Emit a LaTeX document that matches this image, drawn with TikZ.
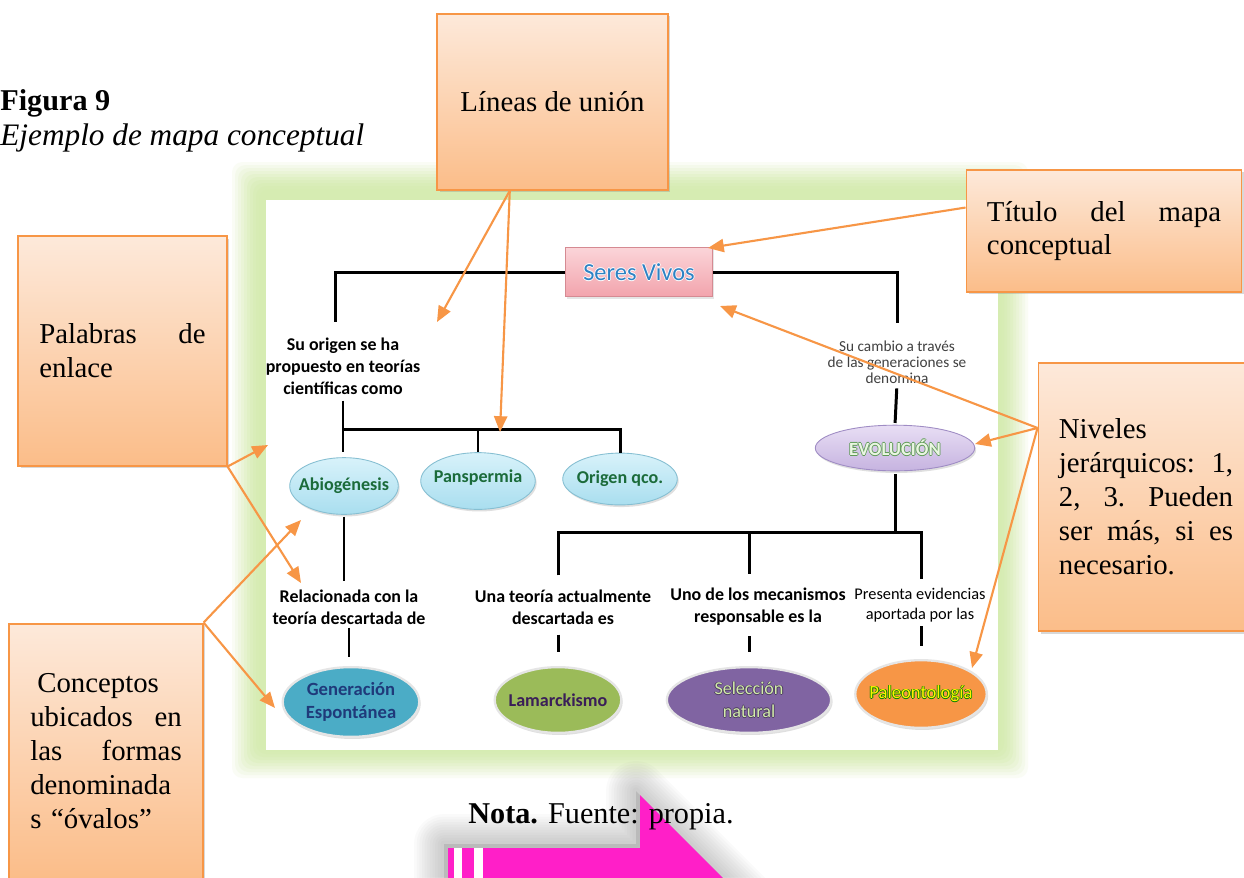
\documentclass[tikz,border=0pt]{standalone}
\usepackage{fontspec}
\setmainfont{Liberation Serif}
\newfontfamily\calib{Carlito}
\usetikzlibrary{arrows.meta,shadows,shapes.geometric,calc}
\definecolor{orn}{HTML}{F79646}
\definecolor{peachtop}{HTML}{FDE9DA}
\definecolor{peachbot}{HTML}{FBBD89}
\definecolor{frameg}{HTML}{D6ECB2}
\definecolor{magent}{HTML}{FF1FC8}
\definecolor{pinktop}{HTML}{FBD5D9}
\definecolor{pinkbot}{HTML}{F2A3AC}
\definecolor{pinkdraw}{HTML}{D58A92}
\definecolor{svblue}{HTML}{2E82C4}
\definecolor{cyantop}{HTML}{D8F2FA}
\definecolor{cyanbot}{HTML}{A9DEEF}
\definecolor{cyandraw}{HTML}{86BFD2}
\definecolor{dgreen}{HTML}{1B6B3A}
\definecolor{lavtop}{HTML}{E8DEF4}
\definecolor{lavbot}{HTML}{C6B3E0}
\definecolor{lavdraw}{HTML}{9F8CC4}
\definecolor{gteal}{HTML}{4BACC6}
\definecolor{olivegr}{HTML}{9BBB59}
\definecolor{purp}{HTML}{8064A2}
\definecolor{navytxt}{HTML}{1F3A7A}
\definecolor{dpurp}{HTML}{3A1E58}
\definecolor{ltgreen}{HTML}{D2EBAA}
\definecolor{evotxt}{HTML}{EAF6E2}
\definecolor{evoglow}{HTML}{5E9A56}

\newcommand\glowtxt[3]{{\color{#1}\rlap{\hspace{0.45pt}#3}\rlap{\hspace{-0.45pt}#3}\rlap{\raisebox{0.45pt}{#3}}\rlap{\raisebox{-0.45pt}{#3}}}{\color{#2}#3}}

\tikzset{
  callout/.style={draw=orn, line width=1.1pt, top color=peachtop, bottom color=peachbot,
     drop shadow={shadow xshift=1.2pt, shadow yshift=-1.2pt, opacity=0.3},
     font=\fontsize{16.4}{19.3}\selectfont, align=left, inner sep=0pt},
  tree/.style={line width=1.7pt, black},
  linktxt/.style={font=\calib\bfseries\fontsize{10.2}{12.5}\selectfont, align=center, inner sep=0pt, text=black},
  oval/.style={ellipse, inner sep=0pt, drop shadow={shadow xshift=0.8pt, shadow yshift=-1.2pt, opacity=0.25}},
  ovaltxt/.style={font=\calib\bfseries\fontsize{10.3}{13}\selectfont, align=center},
  callarrow/.style={orn, line width=1.2pt, -{Triangle[length=9pt,width=7.5pt]}},
}

\begin{document}
\begin{tikzpicture}[x=0.02cm,y=-0.02cm]
\useasboundingbox (0,0) rectangle (1244,877);
\clip (0,0) rectangle (1244,877);
\fill[white] (0,0) rectangle (1244,877);

% caption
\node[anchor=base west, inner sep=0pt, font=\fontsize{17.2}{20}\selectfont\bfseries] (fig) at (0,110) {Figura 9};
\node[anchor=base west, inner sep=0pt, font=\fontsize{17.8}{20}\selectfont\itshape] (figsub) at (0,145) {Ejemplo de mapa conceptual};

% green frame
\foreach \e/\o in {34/0.12,31/0.14,28/0.16,25/0.2,22/0.24,19/0.3,16/0.36,13/0.45,10/0.55,7/0.7}
  \fill[frameg, opacity=\o, rounded corners=6pt] ({266-\e},{200-\e-4}) rectangle ({998+\e-4},{750+\e-6});
\fill[white] (266,200) rectangle (998,750);

% concept map nodes
\node[draw=pinkdraw, line width=0.6pt, top color=pinktop, bottom color=pinkbot, minimum width=83.9pt, minimum height=28.3pt, inner sep=0pt,
      drop shadow={shadow xshift=0.8pt, shadow yshift=-1pt, opacity=0.2},
      font=\calib\fontsize{13.9}{15}\selectfont] (sv) at (639,272) {\glowtxt{white}{svblue}{Seres Vivos}};

\node[linktxt] (t1) at (343,366) {Su origen se ha\\propuesto en teorías\\científicas como};
\node[linktxt, font=\calib\fontsize{8.7}{9}\selectfont, text=black!75] (t2) at (897,362) {Su cambio a través\\de las generaciones se\\denomina};

\node[oval, minimum width=61.8pt, minimum height=32.3pt, top color=cyantop, bottom color=cyanbot, draw=cyandraw, line width=0.5pt] (a1) at (344,486) {};
\node[ovaltxt, text=dgreen] (a1t) at (a1.center) {Abiogénesis};
\node[oval, minimum width=65.2pt, minimum height=32.3pt, top color=cyantop, bottom color=cyanbot, draw=cyandraw, line width=0.5pt] (pan) at (478,481) {};
\node[ovaltxt, text=dgreen] (pant) at ([yshift=2pt]pan.center) {Panspermia};
\node[oval, minimum width=65.2pt, minimum height=29.5pt, top color=cyantop, bottom color=cyanbot, draw=cyandraw, line width=0.5pt] (org) at (620,479) {};
\node[ovaltxt, text=dgreen] (orgt) at (org.center) {Origen qco.};

\node[oval, minimum width=90.7pt, minimum height=26pt, top color=lavtop, bottom color=lavbot, draw=lavdraw, line width=0.5pt] (evo) at (895,448) {};
\node[ovaltxt, font=\calib\bfseries\fontsize{10.6}{12}\selectfont] (evot) at (evo.center) {\glowtxt{evoglow}{evotxt}{EVOLUCIÓN}};

\node[linktxt] (l1) at (349,607) {Relacionada con la\\teoría descartada de};
\node[linktxt] (l2) at (563,607) {Una teoría actualmente\\descartada es};
\node[linktxt] (l3) at (758,607) {Uno de los mecanismos\\responsable es la};
\node[linktxt, font=\calib\fontsize{9.3}{11}\selectfont] (l4) at (920,605) {Presenta evidencias\\aportada por las};

\node[oval, minimum width=77.7pt, minimum height=39.7pt, fill=gteal, draw=white!80!gray, line width=1.3pt] (g1) at (351,702) {};
\node[ovaltxt, text=navytxt, font=\calib\bfseries\fontsize{10.6}{13}\selectfont] (g1t) at (g1.center) {Generación\\Espontánea};
\node[oval, minimum width=72pt, minimum height=37.4pt, fill=olivegr, draw=white!80!gray, line width=1.3pt] (g2) at (558,700) {};
\node[ovaltxt, text=dpurp] (g2t) at (g2.center) {Lamarckismo};
\node[oval, minimum width=93.5pt, minimum height=37.4pt, fill=purp, draw=white!80!gray, line width=1.3pt] (g3) at (749,700) {};
\node[ovaltxt, font=\calib\fontsize{10.3}{13}\selectfont] (g3t) at (g3.center) {\glowtxt{purp!60!black}{ltgreen}{Selección}\\\glowtxt{purp!60!black}{ltgreen}{natural}};
\node[oval, minimum width=74.8pt, minimum height=38.5pt, fill=orn, draw=white!80!gray, line width=1.3pt] (g4) at (921,694) {};
\node[ovaltxt, font=\calib\fontsize{10.6}{13}\selectfont] (g4t) at (g4.center) {\glowtxt{green!50!black}{yellow}{Paleontología}};

% tree connectors
\coordinate (bar1) at (343,429);
\coordinate (bar2) at (895,532);
\draw[tree, shorten >=9pt] (sv.west) -| ([xshift=-4pt]t1.north);
\draw[tree, shorten <=3.4pt, shorten >=2.8pt] (t1.south) -- (t1.south |- a1.north);
\draw[tree] (a1.north |- bar1) -| (org.north);
\draw[tree] (pan.north |- bar1) -- (pan.north);
\draw[tree, shorten >=10pt] (sv.east) -| (t2.north);
\draw[tree, shorten <=2.8pt, shorten >=1pt] (t2.south) -- (evo.north);
\draw[tree, shorten <=1.7pt] (evo.south) -- (bar2);
\draw[tree, shorten <=8pt] (g2.north |- l2.north) |- (bar2);
\draw[tree, shorten >=5pt] (bar2) -| (g4.north |- l4.north);
\draw[tree, shorten <=8pt] (g3.north |- l3.north) -- (g3.north |- bar2);
\draw[tree, shorten <=1pt, shorten >=5pt] (a1.south) -- (a1.south |- l1.north);
\draw[tree, shorten <=1.7pt, shorten >=5pt] (l1.south) -- (l1.south |- g1.north);
\draw[tree, shorten <=5.7pt, shorten >=8pt] (g2.north |- l2.south) -- (g2.north);
\draw[tree, shorten <=5.7pt, shorten >=8pt] (g3.north |- l3.south) -- (g3.north);
\draw[tree, shorten <=2.3pt, shorten >=7.4pt] (g4.north |- l4.south) -- (g4.north);

% magenta arrow with soft grey glow
\begin{scope}[shift={(-4,-4)}]
  \foreach \w in {34pt,31pt,28pt,25pt,22pt,19pt,16pt,13pt,10pt,7pt,4pt}
    \draw[black!45, line width=\w, opacity=0.045, line join=round]
      (448,848) -- (640,848) -- (640,795) -- (746,901) -- (640,1007) -- (448,1007) -- cycle;
  \fill[black!45, opacity=0.3] (448,848) -- (640,848) -- (640,795) -- (746,901) -- (640,1007) -- (448,1007) -- cycle;
\end{scope}
\fill[white] (454,848) rectangle (462,1007);
\fill[white] (474,848) rectangle (483,1007);
\fill[magent] (483,848) -- (640,848) -- (640,795) -- (746,901) -- (640,1007) -- (483,1007) -- cycle;
\fill[magent] (448,848) rectangle (454,1007);
\fill[magent] (462,848) rectangle (474,1007);

\node[anchor=base west, inner sep=0pt, font=\fontsize{17.2}{20}\selectfont] (nota) at (468,823) {\textbf{Nota.} Fuente: propia.};

% callouts
\node[callout, align=center, minimum width=131pt, minimum height=99.8pt] (lu) at (552.5,102) {Líneas de unión};
\node[callout, minimum width=156.5pt, minimum height=69.2pt, text width=133.2pt] (ti) at (1104,231) {Título\hfill del\hfill mapa\\conceptual};
\node[callout, minimum width=122.4pt, minimum height=153pt, text width=99.2pt] (ni) at (1146,497) {Niveles\\jerárquicos:\hfill 1,\\2,\hfill 3.\hfill Pueden\\ser\hfill más,\hfill si\hfill es\\necesario.};
\node[callout, minimum width=118.5pt, minimum height=130.4pt, text width=94.7pt] (pa) at (122.5,351) {Palabras\hfill de\\enlace};
\node[callout, minimum width=110pt, minimum height=145.1pt, text width=86.2pt] (co) at (106,751) {\hspace*{4pt}Conceptos\\ubicados\hfill en\\las\hfill formas\\denominada\\s “óvalos”};

% orange arrows
\coordinate (lu1) at (437,322);
\coordinate (lu2) at (500,432);
\coordinate (tit) at (708,248);
\coordinate (ni1) at (720,306);
\coordinate (ni2) at (975,444);
\coordinate (ni3) at (972,668);
\coordinate (pa1) at (268,445);
\coordinate (pa2) at (301,583);
\coordinate (co1) at (301,520);
\coordinate (co2) at (275,708);
\coordinate (luS) at ($(lu.south west)!0.316!(lu.south east)$);
\coordinate (tiW) at ($(ti.north west)!0.31!(ti.south west)$);
\coordinate (niW) at ($(ni.north west)!0.245!(ni.south west)$);
\draw[callarrow] (luS) -- (lu1);
\draw[callarrow] (luS) -- (lu2);
\draw[callarrow] (tiW) -- (tit);
\draw[callarrow] (niW) -- (ni1);
\draw[callarrow] (niW) -- (ni2);
\draw[callarrow] (niW) -- (ni3);
\draw[callarrow] (pa.south east) -- (pa1);
\draw[callarrow] (pa.south east) -- (pa2);
\draw[callarrow] (co.north east) -- (co1);
\draw[callarrow] (co.north east) -- (co2);
\end{tikzpicture}
\end{document}
